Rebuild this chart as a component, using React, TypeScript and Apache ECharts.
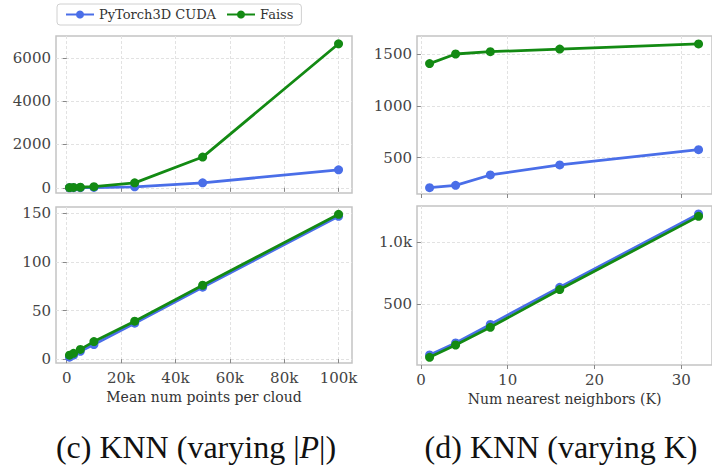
import React, { useEffect, useRef } from 'react';
import * as echarts from 'echarts';

// Data
const seriesNames = ['PyTorch3D CUDA', 'Faiss'];
const pointsX = [1000, 2500, 5000, 10000, 25000, 50000, 100000];
const kX = [1, 4, 8, 16, 32];
const ptsTopTorch = [2, 4, 8, 15, 45, 230, 830];
const ptsTopFaiss = [10, 15, 25, 50, 230, 1420, 6650];
const ptsBotTorch = [2, 4, 8, 15, 37, 74, 147];
const ptsBotFaiss = [4, 6, 10, 18, 39, 76, 149];
const kTopTorch = [210, 233, 333, 430, 578];
const kTopFaiss = [1410, 1503, 1525, 1551, 1600];
const kBotTorch = [87, 185, 335, 635, 1230];
const kBotFaiss = [68, 168, 311, 617, 1210];

const pointsTicks = [0, 20000, 40000, 60000, 80000, 100000];
const kTicks = [0, 10, 20, 30];
const yTicksTL = [0, 2000, 4000, 6000];
const yTicksBL = [0, 50, 100, 150];
const yTicksTR = [500, 1000, 1500];
const yTicksBR = [500, 1000];

const xLabelLeft = 'Mean num points per cloud';
const xLabelRight = 'Num nearest neighbors (K)';

const BLUE = '#4a6ee8';
const GREEN = '#138a13';
const SERIF = '"DejaVu Serif", serif';
const TIMES = '"Liberation Serif", serif';

export default function App() {
  const ref = useRef<HTMLDivElement>(null);
  useEffect(() => {
    document.body.style.margin = '0';
    const chart = echarts.init(ref.current!, null, { renderer: 'svg' });

    const grids = [
      { left: 56, top: 36, width: 296, height: 157 },
      { left: 56, top: 207, width: 296, height: 156 },
      { left: 417, top: 36, width: 304, height: 158 },
      { left: 417, top: 206, width: 304, height: 159 },
    ].map((g) => ({ ...g, show: true, borderColor: '#c4c4c4', borderWidth: 1.5, backgroundColor: '#fff' }));

    const splitLine = { show: true, lineStyle: { color: '#e2e2e2', width: 1, type: [3, 2] as any } };
    const tickStyle = { show: true, length: 4, lineStyle: { color: '#888', width: 1 } };
    const labelStyle = { fontFamily: SERIF, fontSize: 15, color: '#444' };

    const fmtK = (v: number) => (v === 0 ? '0' : v / 1000 + 'k');
    const fmtPlain = (v: number) => String(v);

    const mkX = (gi: number, min: number, max: number, ticks: number[], showLabel: boolean, fmt: any, name?: string) => ({
      type: 'value',
      gridIndex: gi,
      min,
      max,
      axisLine: { show: false },
      axisTick: { ...tickStyle, customValues: ticks },
      axisLabel: { ...labelStyle, show: showLabel, customValues: ticks, formatter: fmt, margin: 7 },
      splitLine,
      name: name || '',
      nameLocation: 'middle',
      nameGap: 27,
      nameTextStyle: { fontFamily: SERIF, fontSize: 14, color: '#333' },
    });
    const mkY = (gi: number, min: number, max: number, ticks: number[], fmt?: any) => ({
      type: 'value',
      gridIndex: gi,
      min,
      max,
      axisLine: { show: false },
      axisTick: { ...tickStyle, customValues: ticks },
      axisLabel: { ...labelStyle, customValues: ticks, formatter: fmt || fmtPlain, margin: 5 },
      splitLine,
    });

    const mkSeries = (name: string, color: string, gi: number, xs: number[], ys: number[]) => ({
      type: 'line',
      name,
      xAxisIndex: gi,
      yAxisIndex: gi,
      data: xs.map((x, i) => [x, ys[i]]),
      symbol: 'circle',
      symbolSize: 9,
      lineStyle: { color, width: 2.8 },
      itemStyle: { color },
      z: name === 'Faiss' ? 3 : 2,
    });

    chart.setOption({
      animation: false,
      backgroundColor: '#fff',
      legend: {
        data: seriesNames,
        left: 57,
        top: 4,
        padding: [4, 8],
        itemGap: 10,
        itemWidth: 28,
        itemHeight: 10,
        borderColor: '#d0d0d0',
        borderWidth: 1,
        borderRadius: 3,
        textStyle: { fontFamily: SERIF, fontSize: 13, color: '#333' },
      },
      grid: grids,
      xAxis: [
        mkX(0, -3950, 104950, pointsTicks, false, fmtK),
        mkX(1, -3950, 104950, pointsTicks, true, fmtK, xLabelLeft),
        mkX(2, -0.45, 33.55, kTicks, false, fmtPlain),
        mkX(3, -0.45, 33.55, kTicks, true, fmtPlain, xLabelRight),
      ],
      yAxis: [
        mkY(0, -240, 7010, yTicksTL),
        mkY(1, -4, 156.5, yTicksBL),
        mkY(2, 149, 1677, yTicksTR),
        mkY(3, 6, 1294, yTicksBR, (v: number) => (v >= 1000 ? (v / 1000).toFixed(1) + 'k' : String(v))),
      ],
      series: [
        mkSeries(seriesNames[0], BLUE, 0, pointsX, ptsTopTorch),
        mkSeries(seriesNames[1], GREEN, 0, pointsX, ptsTopFaiss),
        mkSeries(seriesNames[0], BLUE, 1, pointsX, ptsBotTorch),
        mkSeries(seriesNames[1], GREEN, 1, pointsX, ptsBotFaiss),
        mkSeries(seriesNames[0], BLUE, 2, kX, kTopTorch),
        mkSeries(seriesNames[1], GREEN, 2, kX, kTopFaiss),
        mkSeries(seriesNames[0], BLUE, 3, kX, kBotTorch),
        mkSeries(seriesNames[1], GREEN, 3, kX, kBotFaiss),
      ],
      graphic: [
        {
          type: 'text',
          x: 196,
          y: 447,
          style: {
            text: '(c) KNN (varying |{i|P}|)',
            fontFamily: TIMES,
            fontSize: 32,
            fill: '#111',
            align: 'center',
            verticalAlign: 'middle',
            rich: { i: { fontStyle: 'italic', fontFamily: TIMES, fontSize: 32, fill: '#111' } },
          },
        },
        {
          type: 'text',
          x: 561,
          y: 447,
          style: {
            text: '(d) KNN (varying K)',
            fontFamily: TIMES,
            fontSize: 32,
            fill: '#111',
            align: 'center',
            verticalAlign: 'middle',
          },
        },
      ],
    });
    return () => chart.dispose();
  }, []);
  return <div ref={ref} style={{ width: 712, height: 468 }} />;
}
